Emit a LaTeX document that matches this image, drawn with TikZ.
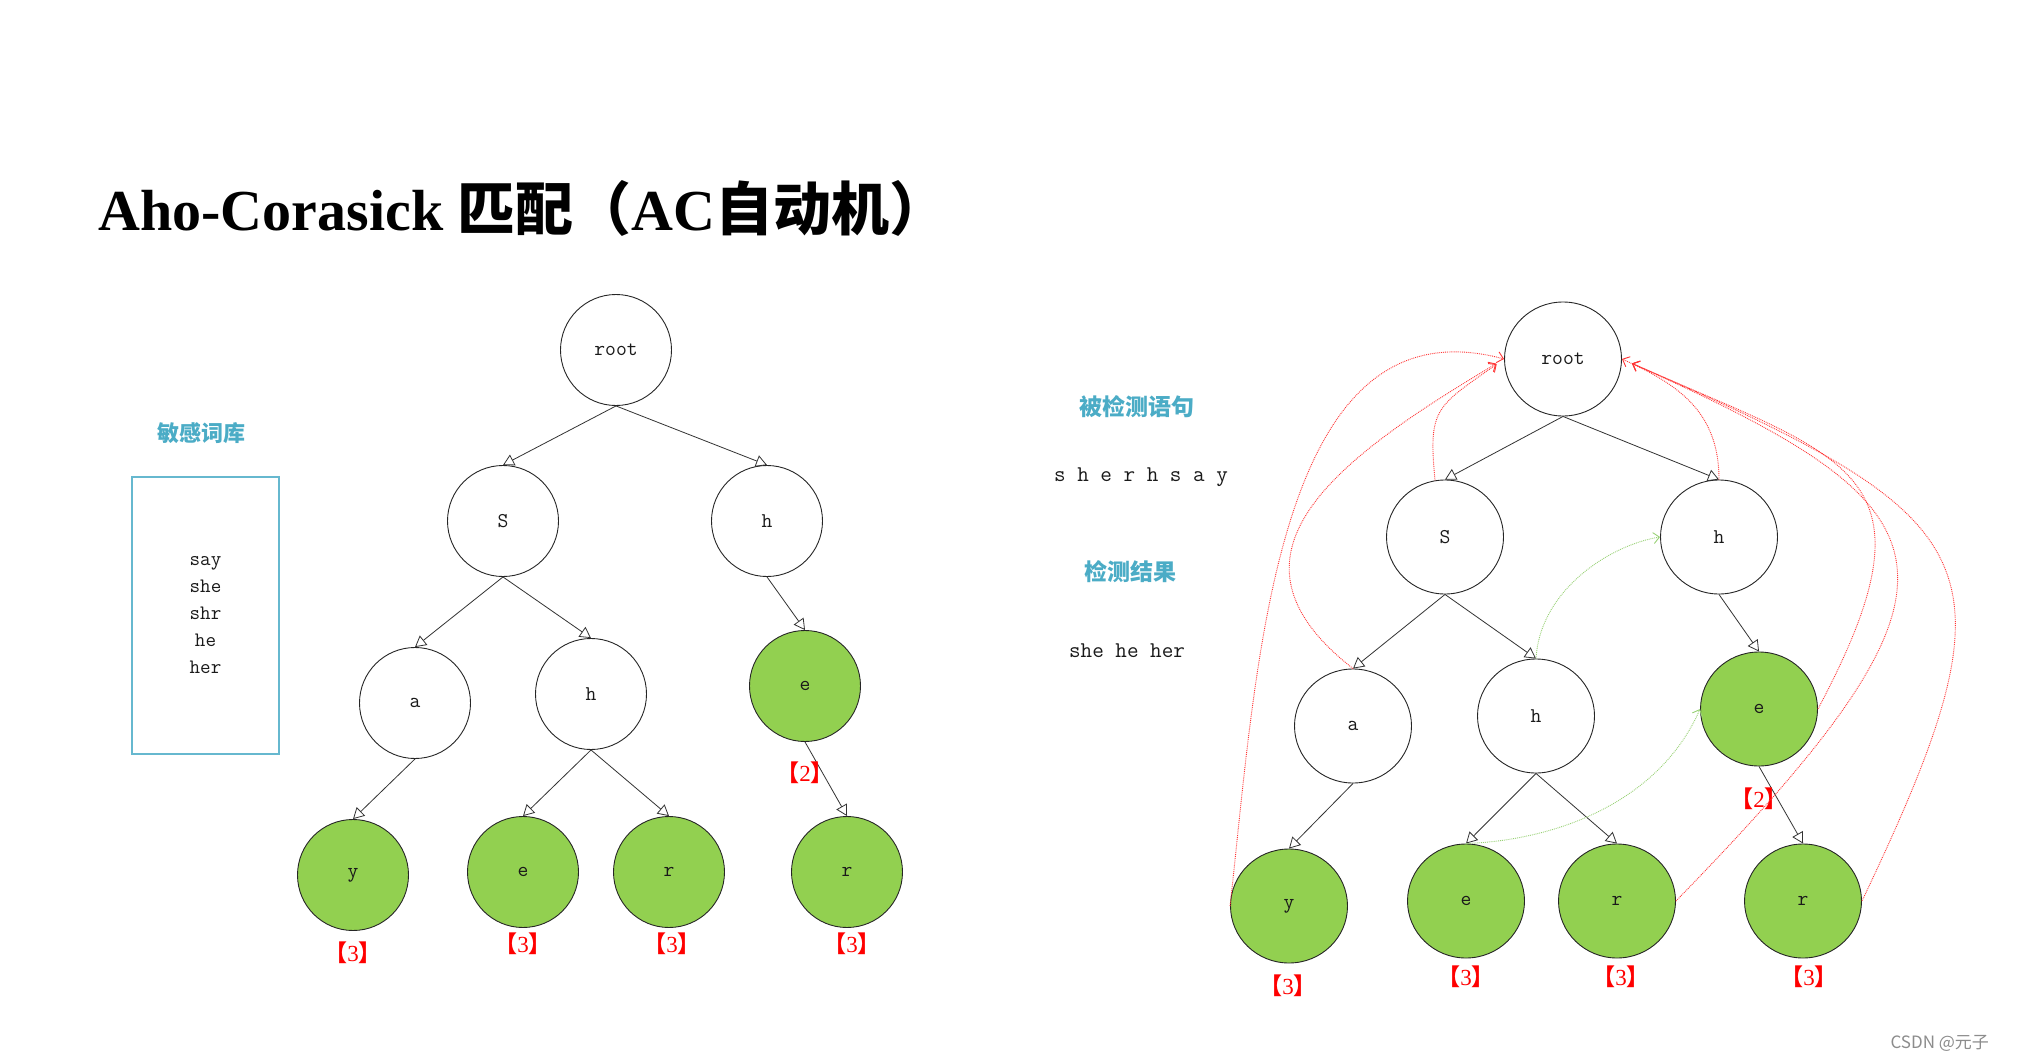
\documentclass[tikz,border=0pt]{standalone}
\usepackage{fontspec}
\setmainfont{Liberation Serif}
\newfontfamily\cjk{Noto Sans CJK SC}
\usepackage{xcolor}
\usepackage{tikz}
\usetikzlibrary{arrows.meta,shapes.geometric}
\definecolor{acGreen}{HTML}{92D050}
\definecolor{acBlue}{HTML}{4BACC6}
\definecolor{acRed}{HTML}{FF0000}
\definecolor{acFail}{HTML}{FF3535}
\definecolor{acLink}{HTML}{98D175}
\definecolor{acInk}{HTML}{1A1A1A}
\tikzset{
 trie/.style={ellipse, draw=black!85, line width=0.9pt, minimum width=111pt, minimum height=111pt, inner sep=0pt, font=\ttfamily\fontsize{21}{24}\selectfont, text=acInk},
 trieedge/.style={draw=black!80, line width=0.8pt, -{Triangle[open, length=11pt, width=12pt]}},
 faillink/.style={draw=acFail, densely dotted, line width=0.9pt, -{Straight Barb[length=6pt, width=11pt]}},
 golink/.style={draw=acLink, densely dotted, line width=0.9pt, -{Straight Barb[length=6pt, width=11pt]}},
 hit/.style={font=\fontsize{23}{25}\selectfont, text=acRed, inner sep=0pt},
 heading/.style={font=\cjk\bfseries\fontsize{22}{24}\selectfont, text=acBlue},
 plain/.style={font=\ttfamily\fontsize{22.5}{26}\selectfont, text=acInk}
}
\newcommand{\trienode}[4]{%
\ifnum#4=1
 \node[trie, fill=acGreen] (#2) at (#1) {#3};%
\else
 \node[trie] (#2) at (#1) {#3};%
\fi}
\newcommand{\hits}[3]{\node[hit] (#2) at (#1) {{\cjk\bfseries 【}#3{\cjk\bfseries 】}};}

\begin{document}
\begin{tikzpicture}[x=1pt, y=-1pt]
\fill[white] (0,0) rectangle (2034,1062);
\useasboundingbox (0,0) rectangle (2034,1062);
\node[anchor=base west, font=\fontsize{58}{62}\selectfont\bfseries] (title) at (95,230) {Aho-Corasick {\cjk 匹配（}AC{\cjk 自动机）}};
% word list
\node[heading] (dicthead) at (201,433) {敏感词库};
\node[draw=acBlue!85, line width=1.3pt, minimum width=147pt, minimum height=277pt, align=center, font=\ttfamily\fontsize{20.5}{27}\selectfont, text=acInk] (dict) at (205.5,615.5) {say\\she\\shr\\he\\her};
% left trie
\trienode{616,350}{lroot}{root}{0}
\trienode{503,521}{ls}{S}{0}
\trienode{767,521}{lh}{h}{0}
\trienode{415,703}{lsa}{a}{0}
\trienode{591,694}{lsh}{h}{0}
\trienode{805,686}{lhe}{e}{1}
\trienode{353,875}{lsay}{y}{1}
\trienode{523,872}{lshe}{e}{1}
\trienode{669,872}{lshr}{r}{1}
\trienode{847,872}{lher}{r}{1}
\draw[trieedge] (lroot.south) -- (ls.north);
\draw[trieedge] (lroot.south) -- (lh.north);
\draw[trieedge] (ls.south) -- (lsa.north);
\draw[trieedge] (ls.south) -- (lsh.north);
\draw[trieedge] (lh.south) -- (lhe.north);
\draw[trieedge] (lsa.south) -- (lsay.north);
\draw[trieedge] (lsh.south) -- (lshe.north);
\draw[trieedge] (lsh.south) -- (lshr.north);
\draw[trieedge] (lhe.south) -- (lher.north);
\hits{353,953}{lsayhit}{3}
\hits{523,944}{lshehit}{3}
\hits{672,944}{lshrhit}{3}
\hits{805,773}{lhehit}{2}
\hits{852,944}{lherhit}{3}
% sentence and result
\node[heading, font=\cjk\bfseries\fontsize{23}{25}\selectfont] (senthead) at (1137,407) {被检测语句};
\node[plain] (sent) at (1141,477) {s h e r h s a y};
\node[heading, font=\cjk\bfseries\fontsize{23}{25}\selectfont] (reshead) at (1130,572) {检测结果};
\node[plain] (res) at (1127,651) {she he her};
% right trie with fail links
\begin{scope}[trie/.append style={minimum width=117pt, minimum height=114pt}]
\trienode{1563,359}{rroot}{root}{0}
\trienode{1445,537}{rs}{S}{0}
\trienode{1719,537}{rh}{h}{0}
\trienode{1353,726}{rsa}{a}{0}
\trienode{1536,716}{rsh}{h}{0}
\trienode{1759,709}{rhe}{e}{1}
\trienode{1289,906}{rsay}{y}{1}
\trienode{1466,901}{rshe}{e}{1}
\trienode{1617,901}{rshr}{r}{1}
\trienode{1803,901}{rher}{r}{1}
\end{scope}
\draw[trieedge] (rroot.south) -- (rs.north);
\draw[trieedge] (rroot.south) -- (rh.north);
\draw[trieedge] (rs.south) -- (rsa.north);
\draw[trieedge] (rs.south) -- (rsh.north);
\draw[trieedge] (rh.south) -- (rhe.north);
\draw[trieedge] (rsa.south) -- (rsay.north);
\draw[trieedge] (rsh.south) -- (rshe.north);
\draw[trieedge] (rsh.south) -- (rshr.north);
\draw[trieedge] (rhe.south) -- (rher.north);
\hits{1288,986}{rsayhit}{3}
\hits{1466,977}{rshehit}{3}
\hits{1621,977}{rshrhit}{3}
\hits{1759,799}{rhehit}{2}
\hits{1809,977}{rherhit}{3}
\draw[faillink] (rsay.west) .. controls (1257,666) and (1274,297) .. (rroot.west);
\draw[faillink, shorten >=9pt] (rsa.north) .. controls (1207,555) and (1336,459) .. (rroot.west);
\draw[faillink, shorten >=9pt] (rs.100) .. controls (1428,408) and (1436,407) .. (rroot.west);
\draw[faillink] (rh.north) .. controls (1719,413) and (1680,385) .. (rroot.east);
\draw[faillink, shorten >=11pt] (rhe.east) .. controls (1945,470) and (1850,460) .. (rroot.east);
\draw[faillink, shorten >=11pt] (rshr.east) .. controls (1995,574) and (1960,510) .. (rroot.east);
\draw[faillink, shorten >=11pt] (rher.east) .. controls (2025,559) and (1990,520) .. (rroot.east);
\draw[golink] (rsh.north) .. controls (1540,590) and (1610,545) .. (rh.west);
\draw[golink] (rshe.north) .. controls (1560,840) and (1660,800) .. (rhe.west);
% watermark
\node[anchor=west, font=\cjk\fontsize{17}{19}\selectfont, text=black!45] (mark) at (1887,1043) {CSDN @元子};
\end{tikzpicture}
\end{document}
